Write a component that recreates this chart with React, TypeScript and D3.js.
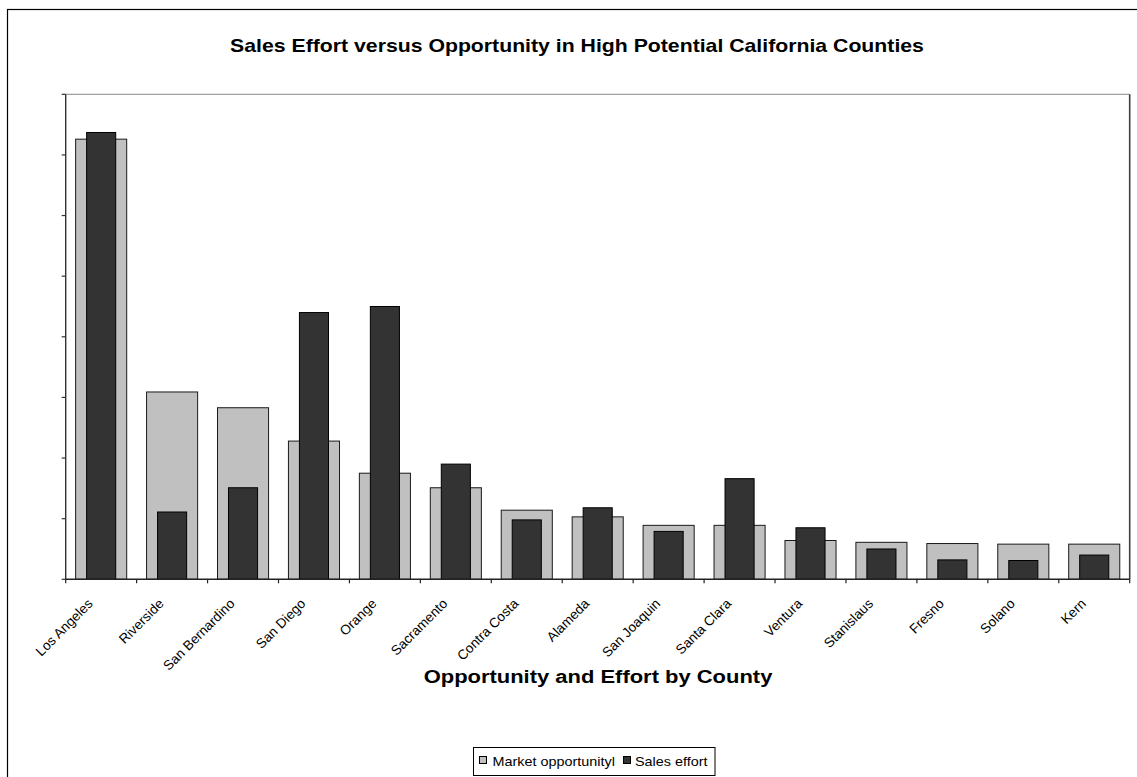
import React from "react";
import * as d3 from "d3";

const counties = [
  "Los Angeles", "Riverside", "San Bernardino", "San Diego", "Orange",
  "Sacramento", "Contra Costa", "Alameda", "San Joaquin", "Santa Clara",
  "Ventura", "Stanislaus", "Fresno", "Solano", "Kern",
];
const marketOpportunity = [7.26, 3.09, 2.83, 2.28, 1.75, 1.51, 1.14, 1.03, 0.89, 0.89, 0.64, 0.61, 0.59, 0.58, 0.58];
const salesEffort = [7.37, 1.11, 1.51, 4.4, 4.5, 1.9, 0.98, 1.18, 0.79, 1.66, 0.85, 0.5, 0.32, 0.31, 0.4];
const yTicks = [0, 1, 2, 3, 4, 5, 6, 7, 8];
const seriesNames = ["Market opportunityl", "Sales effort"];
const title = "Sales Effort versus Opportunity in High Potential California Counties";
const xTitle = "Opportunity and Effort by County";

const W = 1137;
const H = 777;
const FONT = "Arial, 'Liberation Sans', sans-serif";
const SX = 1.2;

export default function App() {
  const left = 65.7, right = 1129.7, top = 94.3, bottom = 579.3;
  const x = d3.scaleBand<string>().domain(counties).range([left, right]).padding(0);
  const y = d3.scaleLinear().domain([0, 8]).range([bottom, top]);
  const bw = x.bandwidth();
  const mW = bw * 0.72;
  const eW = bw * 0.41;
  const marketFill = "#c0c0c0";
  const effortFill = "#333333";

  return (
    <svg width={W} height={H} style={{ position: "absolute", left: 0, top: 0, display: "block" }} fontFamily={FONT}>
      <rect x={0} y={0} width={W} height={H} fill="#ffffff" />
      {/* chart area border */}
      <rect x={7.5} y={9.5} width={W + 20} height={H + 20} fill="none" stroke="#000" strokeWidth={1.2} />

      {/* title */}
      <text transform={`translate(577,52) scale(${SX},1)`} textAnchor="middle" fontSize={17.7} fontWeight="bold" fill="#000">
        {title}
      </text>

      {/* plot area borders */}
      <line x1={left} x2={right} y1={top} y2={top} stroke="#a0a0a0" strokeWidth={1.3} />
      <line x1={right} x2={right} y1={top} y2={bottom} stroke="#404040" strokeWidth={1.6} />

      {/* bars */}
      {counties.map((c, i) => {
        const cx = (x(c) as number) + bw / 2;
        return (
          <g key={c}>
            <rect
              x={cx - mW / 2}
              y={y(marketOpportunity[i])}
              width={mW}
              height={bottom - y(marketOpportunity[i])}
              fill={marketFill}
              stroke="#1a1a1a"
              strokeWidth={1}
            />
            <rect
              x={cx - eW / 2}
              y={y(salesEffort[i])}
              width={eW}
              height={bottom - y(salesEffort[i])}
              fill={effortFill}
              stroke="#000"
              strokeWidth={1}
            />
          </g>
        );
      })}

      {/* y axis */}
      <line x1={left} x2={left} y1={top} y2={bottom} stroke="#333" strokeWidth={1.4} />
      {yTicks.map((t) => (
        <line key={t} x1={left - 4} x2={left} y1={y(t)} y2={y(t)} stroke="#333" strokeWidth={1.2} />
      ))}

      {/* x axis */}
      <line x1={left} x2={right} y1={bottom} y2={bottom} stroke="#222" strokeWidth={1.4} />
      {[...counties.map((c) => x(c) as number), right].map((px, i) => (
        <line key={i} x1={px} x2={px} y1={bottom} y2={bottom + 4} stroke="#222" strokeWidth={1.2} />
      ))}
      {counties.map((c) => {
        const cx = (x(c) as number) + bw / 2;
        return (
          <text
            key={c}
            transform={`translate(${cx - 7.5},604.5) rotate(-45)`}
            textAnchor="end"
            fontSize={13.6}
            fill="#000"
          >
            {c}
          </text>
        );
      })}

      {/* x axis title */}
      <text transform={`translate(598,683) scale(${SX},1)`} textAnchor="middle" fontSize={18.3} fontWeight="bold" fill="#000">
        {xTitle}
      </text>

      {/* legend */}
      <rect x={473.5} y={747.5} width={241.5} height={28} fill="#fff" stroke="#000" strokeWidth={1} />
      <rect x={479.5} y={756.5} width={7} height={7} fill={marketFill} stroke="#000" strokeWidth={1} />
      <text transform={`translate(492.5,765.5) scale(${SX},1)`} fontSize={12} fill="#000">
        {seriesNames[0]}
      </text>
      <rect x={623.5} y={756.5} width={7} height={7} fill={effortFill} stroke="#000" strokeWidth={1} />
      <text transform={`translate(635,765.5) scale(${SX},1)`} fontSize={12} fill="#000">
        {seriesNames[1]}
      </text>
    </svg>
  );
}
